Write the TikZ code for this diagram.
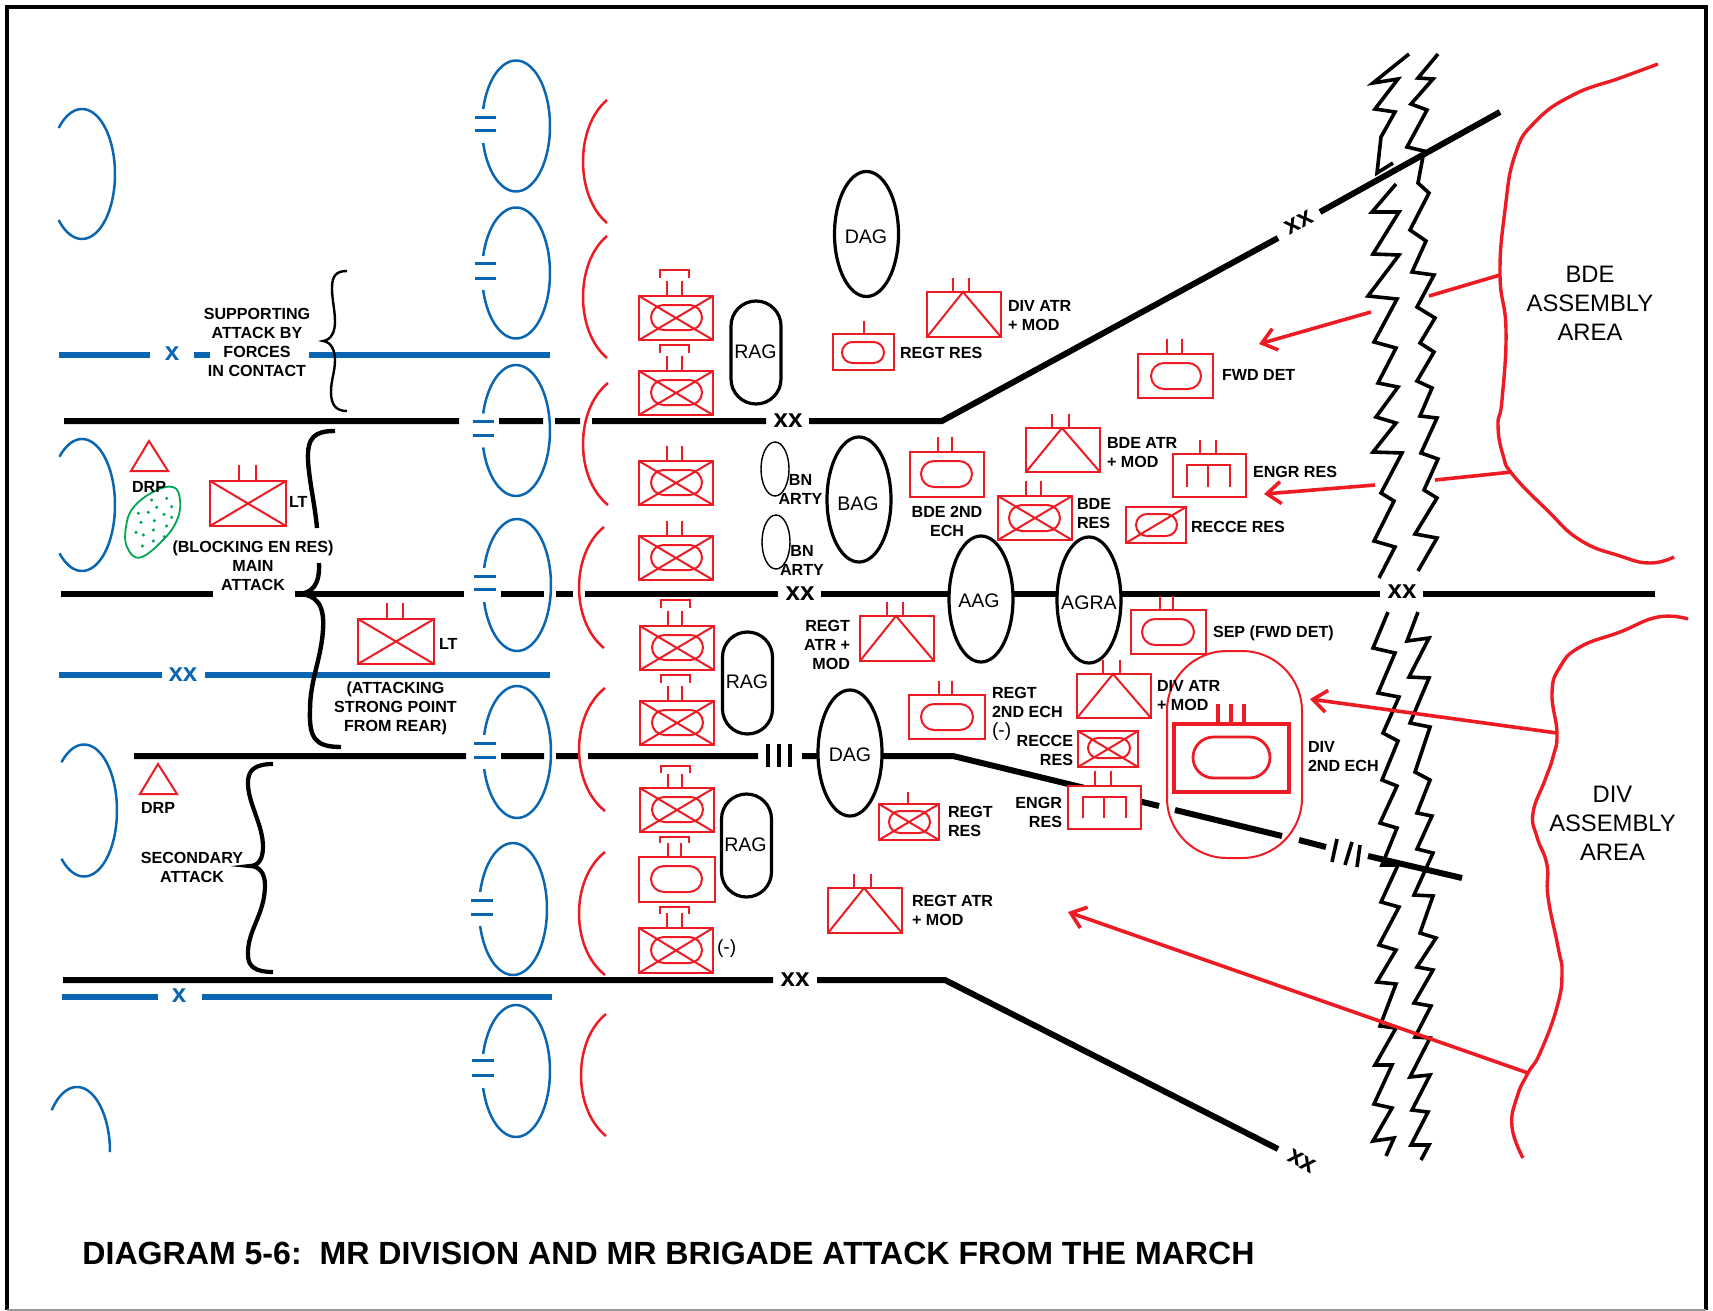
\documentclass[tikz,border=0pt]{standalone}
\usepackage{fontspec}
\setmainfont{Liberation Sans}
\usetikzlibrary{shapes.misc,shapes.geometric,arrows.meta}
\definecolor{mred}{HTML}{ED1C24}
\definecolor{mblue}{HTML}{0B66B2}
\definecolor{mgreen}{HTML}{00A651}
\tikzset{
 redline/.style={draw=mred,line width=1pt},
 redbox/.style={redline,fill=white,rectangle,inner sep=0pt,outer sep=0pt},
 redoval/.style={redline,fill=white,rounded rectangle,inner sep=0pt,outer sep=0pt},
 blackline/.style={draw=black,line width=3pt},
 blueline/.style={draw=mblue,line width=3pt},
 jag/.style={draw=black,line width=1.8pt,miter limit=4},
 bluearc/.style={draw=mblue,line width=1.25pt},
 redarc/.style={draw=mred,line width=1.25pt},
 eqmark/.style={draw=mblue,line width=1.5pt},
 thick arrow/.style={draw=mred,line width=1.8pt},
 arrowed/.style={thick arrow,-{Straight Barb[length=7pt,width=11pt,line width=1.8pt]}},
 area/.style={draw=mred,line width=1.7pt},
 blackell/.style={draw=black,line width=1.6pt,fill=white,ellipse,inner sep=0pt,outer sep=0pt},
 ragbox/.style={draw=black,line width=1.6pt,fill=white,rounded rectangle,rounded rectangle arc length=180,inner sep=0pt,outer sep=0pt,rotate=90},
 lab/.style={inner sep=0pt,outer sep=0pt,align=center,font=\fontsize{8.05}{9.5}\selectfont\bfseries},
 labw/.style={lab,anchor=west,align=left},
 labe/.style={lab,anchor=east,align=right},
 big/.style={inner sep=0pt,font=\fontsize{9.8}{11}\selectfont},
 area text/.style={inner sep=0pt,align=center,font=\fontsize{11.9}{14.5}\selectfont},
 xxt/.style={inner sep=0pt,font=\fontsize{13}{15}\selectfont\bfseries},
}
\newcommand\ubox[5]{\node[redbox,minimum width={(#4-#2)*.5pt},minimum height={(#5-#3)*.5pt}] (#1) at ({(#2+#4)/2},{(#3+#5)/2}) {};}
\newcommand\uX[1]{\draw[redline] (#1.north west)--(#1.south east) (#1.north east)--(#1.south west);}
\newcommand\uO[5]{\node[redoval,fill=none,minimum width={(#4-#2)*.5pt},minimum height={(#5-#3)*.5pt}] (#1) at ({(#2+#4)/2},{(#3+#5)/2}) {};}
\newcommand\uT[2]{\draw[redline] (#1.south west)--(#2,0 |- #1.north)--(#1.south east);}
\newcommand\uTk[4]{\draw[redline] (#2,#4)--(#2,0 |- #1.north) (#3,#4)--(#3,0 |- #1.north);}
\newcommand\uBr[5]{\draw[redline] (#1,#4)--(#1,#3)--(#2,#3)--(#2,#4);}
% blue open ellipse
\newcommand\oarc[7][bluearc]{\draw[#1] plot[domain=#6:#7,samples=60,smooth] ({#2+#4*cos(\x)},{#3+#5*sin(\x)});}
% red open arc: x-end, y-top, y-bottom, x-left
\newcommand\rarc[4]{\draw[redarc] (#1,#2) .. controls ({(#4-.25*#1)/.75},{#2+.22*(#3-#2)}) and ({(#4-.25*#1)/.75},{#2+.78*(#3-#2)}) .. (#1,#3);}
\newcommand\eqm[4]{\draw[eqmark] (#1,#3)--(#2,#3) (#1,#4)--(#2,#4);}
\begin{document}
\begin{tikzpicture}[x=.5pt,y=-.5pt]
\useasboundingbox (0,0) rectangle (1713,1311);
\fill[white] (0,0) rectangle (1713,1311);
\draw[line width=2pt] (7,1310) -- (7,7) -- (1706,7) -- (1706,1310);
\draw[line width=.6pt,black!40] (7,1310) -- (1706,1310);

% ---------- black phase lines
\coordinate (a0) at (64,421); \coordinate (a1) at (459,421); \coordinate (a2) at (499,421); \coordinate (a3) at (543,421);
\coordinate (a4) at (555,421); \coordinate (a5) at (580,421); \coordinate (a6) at (592,421); \coordinate (a7) at (766,421);
\coordinate (a8) at (809,421); \coordinate (a9) at (942,421); \coordinate (a10) at (1278,238); \coordinate (a11) at (1320,212); \coordinate (a12) at (1500,112);
\draw[blackline] (a0)--(a1) (a2)--(a3) (a4)--(a5) (a6)--(a7) (a10)--(a9)--(a8) (a11)--(a12);
\coordinate (b0) at (61,594); \coordinate (b1) at (213,594); \coordinate (b2) at (295,594); \coordinate (b3) at (464,594);
\coordinate (b4) at (501,594); \coordinate (b5) at (544,594); \coordinate (b6) at (556,594); \coordinate (b7) at (573,594);
\coordinate (b8) at (585,594); \coordinate (b9) at (778,594); \coordinate (b10) at (821,594); \coordinate (b11) at (1380,594);
\coordinate (b12) at (1423,594); \coordinate (b13) at (1655,594);
\draw[blackline] (b0)--(b1) (b2)--(b3) (b4)--(b5) (b6)--(b7) (b8)--(b9) (b10)--(b11) (b12)--(b13);
\coordinate (c0) at (134,756); \coordinate (c1) at (466,756); \coordinate (c2) at (501,756); \coordinate (c3) at (544,756);
\coordinate (c4) at (556,756); \coordinate (c5) at (578,756); \coordinate (c6) at (588,756); \coordinate (c7) at (758,756);
\coordinate (c8) at (802,756); \coordinate (c9) at (840,756); \coordinate (c10) at (953,756); \coordinate (c11) at (1159,806);
\coordinate (c12) at (1175,810); \coordinate (c13) at (1282,836); \coordinate (c14) at (1299,840); \coordinate (c15) at (1326,847);
\coordinate (c16) at (1368,856); \coordinate (c17) at (1462,878);
\draw[blackline] (c0)--(c1) (c2)--(c3) (c4)--(c5) (c6)--(c7) (c8)--(c9)--(c10)--(c11) (c12)--(c13) (c14)--(c15) (c16)--(c17);
\coordinate (d0) at (63,980); \coordinate (d1) at (773,980); \coordinate (d2) at (817,980); \coordinate (d3) at (945,980); \coordinate (d4) at (1278,1149);
\draw[blackline] (d0)--(d1) (d4)--(d3)--(d2);
% III marks
\draw[line width=2.2pt] (768,744)--(768,767) (779,744)--(779,767) (790,744)--(790,767);
\draw[line width=1.8pt] (1337,839)--(1332,862) (1352,842)--(1345,865) (1360,845)--(1357,867);

% ---------- blue boundary lines
\coordinate (e0) at (59,355); \coordinate (e1) at (150,355); \coordinate (e2) at (194,355); \coordinate (e3) at (210,355); \coordinate (e4) at (309,355); \coordinate (e5) at (550,355);
\draw[blueline] (e0)--(e1) (e2)--(e3) (e4)--(e5);
\coordinate (f0) at (59,674.5); \coordinate (f1) at (162,674.5); \coordinate (f2) at (205,674.5); \coordinate (f3) at (550,674.5);
\draw[blueline] (f0)--(f1) (f2)--(f3);
\coordinate (g0) at (62,997); \coordinate (g1) at (158,997); \coordinate (g2) at (202,997); \coordinate (g3) at (552,997);
\draw[blueline] (g0)--(g1) (g2)--(g3);
\node[xxt,text=mblue] (xb1) at (172,354) {x};
\node[xxt,text=mblue] (xb2) at (183,675) {xx};
\node[xxt,text=mblue] (xb3) at (179,996) {x};

% ---------- blue open ellipses
\oarc{82}{174}{33}{65}{-135}{135}
\oarc{82}{505}{33}{66}{-133}{133}
\oarc{84}{810.5}{33}{66}{-133}{133}
\oarc{77}{1152}{33}{65}{-140}{0}
\oarc{516}{126}{34}{65.5}{-165}{165}
\oarc{516}{273}{34}{65.5}{-165}{165}
\oarc{516}{430.5}{34}{65.5}{-165}{165}
\oarc{517}{585}{34}{66}{-165}{165}
\oarc{517}{752}{34}{66}{-165}{165}
\oarc{513}{909}{34}{66}{-165}{165}
\oarc{516}{1071}{34}{66}{-165}{165}
\eqm{475}{496}{118}{131}
\eqm{475}{496}{263}{278}
\eqm{473}{494}{421}{435}
\eqm{474}{496}{576}{589}
\eqm{474}{496}{743}{757}
\eqm{471}{493}{900}{914}
\eqm{472}{494}{1060}{1075}

% ---------- red open arcs
\rarc{607}{100}{223}{583}
\rarc{607}{236}{358}{583}
\rarc{608}{383}{505}{583}
\rarc{604}{527}{648}{579}
\rarc{605}{688}{811}{579}
\rarc{605}{852}{975}{579}
\rarc{606}{1014}{1136}{581}

% ---------- jagged boundary
\draw[jag] plot coordinates {(1409,54)(1373,83)(1398,79)(1375,109)(1395,112)(1381,137)(1377,173)(1393,163)};
\draw[jag] plot coordinates {(1438,54)(1418,78)(1433,79)(1411,104)(1427,110)(1407,147)(1424,151)(1418,183)(1429,193)(1410,230)(1426,241)(1412,272)(1434,275)(1417,307)(1435,318)(1420,343)(1434,352)(1417,381)(1432,388)(1420,416)(1437,418)(1421,453)(1438,459)(1424,490)(1437,498)(1415,534)(1437,538)(1418,571)};
\draw[jag] plot coordinates {(1396,184)(1372,212)(1399,212)(1373,254)(1399,255)(1368,296)(1397,299)(1374,342)(1396,348)(1378,383)(1398,387)(1376,417)(1396,423)(1373,452)(1402,453)(1381,493)(1394,501)(1374,541)(1395,547)(1379,578)};
\draw[jag] plot coordinates {(1388,612)(1373,648)(1395,653)(1378,693)(1399,697)(1383,733)(1398,741)(1382,780)(1397,786)(1380,823)(1397,828)(1382,865)(1398,865)(1381,902)(1399,907)(1379,945)(1396,950)(1377,982)(1396,984)(1380,1026)(1396,1028)(1375,1065)(1392,1065)(1374,1104)(1392,1108)(1373,1141)(1394,1138)(1386,1156)};
\draw[jag] plot coordinates {(1418,612)(1407,641)(1429,638)(1409,677)(1429,678)(1410,723)(1430,727)(1415,772)(1430,780)(1417,813)(1432,816)(1417,849)(1433,853)(1414,895)(1433,896)(1420,933)(1436,938)(1417,967)(1433,970)(1414,1003)(1431,1006)(1415,1037)(1430,1038)(1410,1077)(1430,1075)(1412,1110)(1428,1112)(1411,1145)(1429,1145)(1421,1160)};

% ---------- xx labels
\node[xxt] (xx1) at (788,421) {xx};
\node[xxt] (xx2) at (800,594) {xx};
\node[xxt] (xx3) at (795,980) {xx};
\node[xxt] (xx4) at (1402,592) {xx};
\node[xxt,rotate=29] (xx5) at (1299,222) {xx};
\node[xxt,rotate=-27] (xx6) at (1302,1161) {xx};

% ---------- assembly areas
\draw[area] plot[smooth,tension=.8] coordinates {(1658,64)(1620,78)(1573,95)(1535,122)(1515,155)(1505,210)(1500,275)(1506,330)(1502,400)(1498,425)(1503,455)(1513,475)(1547,510)(1580,540)(1620,556)(1650,563)(1674,557)};
\draw[area] plot[smooth,tension=.8] coordinates {(1688,619)(1658,617)(1620,632)(1580,647)(1560,667)(1552,693)(1557,733)(1553,757)(1545,780)(1533,813)(1537,837)(1547,865)(1548,897)(1558,947)(1562,973)(1557,1007)(1540,1053)(1528,1073)(1517,1097)(1512,1127)(1523,1158)};

% ---------- arrows
\coordinate (p1) at (1500,275); \coordinate (p2) at (1429,296); \coordinate (p3) at (1371,312); \coordinate (p4) at (1259,344);
\draw[thick arrow] (p1)--(p2); \draw[arrowed] (p3)--(p4);
\coordinate (q1) at (1512,472); \coordinate (q2) at (1435,480); \coordinate (q3) at (1375,485); \coordinate (q4) at (1264,494);
\draw[thick arrow] (q1)--(q2); \draw[arrowed] (q3)--(q4);
\coordinate (r1) at (1557,733); \coordinate (r2) at (1310,699);
\draw[arrowed] (r1)--(r2);
\coordinate (s1) at (1528,1073); \coordinate (s2) at (1068,912);
\draw[arrowed] (s1)--(s2);

% ---------- black ellipses
\node[blackell,minimum width=32pt,minimum height=62.5pt] (dag1) at (866.5,234) {};
\node[blackell,minimum width=32pt,minimum height=62.5pt] (bag) at (859,499.5) {};
\node[blackell,minimum width=32pt,minimum height=63pt] (aag) at (981,599) {};
\node[blackell,minimum width=32pt,minimum height=63pt] (agra) at (1089,600) {};
\node[blackell,minimum width=32pt,minimum height=63pt] (dag2) at (850,753) {};
\node[big] (dag1t) at (866,236.5) {DAG};
\node[big] (bagt) at (858,504) {BAG};
\node[big] (aagt) at (979,601) {AAG};
\node[big] (agrat) at (1089,603) {AGRA};
\node[big] (dag2t) at (850,755) {DAG};
\node[blackell,line width=.7pt,fill=none,minimum width=14pt,minimum height=27pt] (bn1) at (775,469) {};
\node[blackell,line width=.7pt,fill=none,minimum width=14pt,minimum height=27pt] (bn2) at (776,542) {};
% RAGs
\node[ragbox,minimum width=51.5pt,minimum height=25pt] (rag1) at (756,352.5) {};
\node[ragbox,minimum width=51pt,minimum height=25pt] (rag2) at (747.5,683) {};
\node[ragbox,minimum width=51.5pt,minimum height=25pt] (rag3) at (746.5,845.5) {};
\node[big] (rag1t) at (755.5,352) {RAG};
\node[big] (rag2t) at (747,682) {RAG};
\node[big] (rag3t) at (745.5,845) {RAG};

% ---------- red units
\ubox{u1}{639}{296}{713}{340}\uO{u1o}{651}{305}{702}{330}\uX{u1}\uTk{u1}{667}{682}{281}\uBr{660}{689}{270}{278}{}
\ubox{u2}{639}{371}{713}{415}\uO{u2o}{651}{380}{702}{405}\uX{u2}\uTk{u2}{667}{682}{356}\uBr{660}{689}{345}{353}{}
\ubox{u3}{639}{461}{713}{505}\uO{u3o}{651}{470}{702}{495}\uX{u3}\uTk{u3}{667}{682}{446}
\ubox{u4}{639}{536}{713}{580}\uO{u4o}{651}{545}{702}{570}\uX{u4}\uTk{u4}{667}{682}{521}
\ubox{u5}{640}{626}{714}{670}\uO{u5o}{652}{635}{703}{660}\uX{u5}\uTk{u5}{668}{682}{611}\uBr{661}{690}{600}{608}{}
\ubox{u6}{640}{701}{714}{745}\uO{u6o}{652}{710}{703}{735}\uX{u6}\uTk{u6}{668}{682}{686}\uBr{661}{690}{675}{683}{}
\ubox{u7}{640}{788}{714}{832}\uO{u7o}{652}{797}{703}{822}\uX{u7}\uTk{u7}{668}{682}{774}\uBr{661}{690}{766}{773}{}
\ubox{u8}{639}{857}{715}{902}\uO{u8o}{651}{866}{702}{892}\uTk{u8}{668}{681}{843}\uBr{660}{689}{837}{843}{}
\ubox{u9}{639}{928}{713}{973}\uO{u9o}{651}{937}{702}{963}\uX{u9}\uTk{u9}{667}{682}{913}\uBr{660}{689}{907}{914}{}

\ubox{tdiv}{927}{292}{1001}{337}\uT{tdiv}{963}\uTk{tdiv}{953}{969}{278}
\ubox{regres}{833}{334}{894}{370}\uO{regreso}{842}{342}{884}{363}\draw[redline] (864,321)--(864,0 |- regres.north);
\ubox{bde2}{910}{452}{984}{497}\uO{bde2o}{921}{461}{972}{487}\uTk{bde2}{938}{952}{437}
\ubox{bdeatr}{1026}{428}{1100}{472}\uT{bdeatr}{1062}\uTk{bdeatr}{1052}{1069}{414}
\ubox{bderes}{998}{496}{1072}{540}\uO{bderesO}{1009}{505}{1060}{531}\uX{bderes}\uTk{bderes}{1026}{1041}{481}
\ubox{fwd}{1138}{354}{1213}{398}\uO{fwdo}{1151}{363}{1201}{389}\uTk{fwd}{1167}{1182}{339}
\ubox{engr1}{1173}{454}{1246}{497}\uTk{engr1}{1200}{1216}{440}
\draw[redline] (1187,487)--(1187,465)--(1230,465)--(1230,487) (1208,465)--(1208,487);
\ubox{rec1}{1126}{507}{1186}{543}\uO{rec1o}{1136}{514}{1177}{536}\draw[redline] (rec1.south west)--(rec1.north east);
\ubox{lt1}{210}{481}{286}{526}\uX{lt1}\uTk{lt1}{239}{256}{465}
\ubox{lt2}{358}{619}{434}{664}\uX{lt2}\uTk{lt2}{387}{403}{603}
\ubox{ratr1}{860}{616}{934}{661}\uT{ratr1}{896}\uTk{ratr1}{887}{903}{602}
\ubox{sep}{1131}{610}{1206}{654}\uO{sepo}{1142}{619}{1194}{645}\uTk{sep}{1160}{1173}{596}
\ubox{divatr2}{1077}{674}{1151}{718}\uT{divatr2}{1113}\uTk{divatr2}{1103}{1120}{660}
\ubox{rec2}{1078}{731}{1138}{767}\uO{rec2o}{1088}{738}{1130}{758}\uX{rec2}
\ubox{engr2}{1068}{786}{1141}{829}\uTk{engr2}{1095}{1111}{771}
\draw[redline] (1083,818)--(1083,797)--(1126,797)--(1126,818) (1104,797)--(1104,818);
\ubox{r2e}{909}{695}{985}{739}\uO{r2eo}{921}{704}{973}{730}\uTk{r2e}{939}{952}{681}
\ubox{rres2}{879}{804}{939}{840}\uO{rres2o}{889}{811}{930}{833}\uX{rres2}\draw[redline] (908,792)--(908,0 |- rres2.north);
\ubox{ratr2}{828}{888}{902}{933}\uT{ratr2}{864}\uTk{ratr2}{854}{871}{874}
% div 2nd echelon
\draw[redline,rounded corners=30pt] (1167,651) rectangle (1302,858);
\node[redbox,line width=1.8pt,minimum width=57.5pt,minimum height=34pt] (bigbox) at (1231.5,758) {};
\node[redoval,line width=1.4pt,fill=none,minimum width=38.5pt,minimum height=20.5pt] (bigo) at (1231.5,757.5) {};
\draw[redline,line width=1.8pt] (1218,704)--(1218,0 |- bigbox.north) (1231,704)--(1231,0 |- bigbox.north) (1244,704)--(1244,0 |- bigbox.north);
% DRP triangles
\coordinate (t1) at (149,441); \coordinate (t2) at (131,471); \coordinate (t3) at (168,471);
\draw[redline] (t1)--(t2)--(t3)--cycle;
\coordinate (v1) at (158,764); \coordinate (v2) at (140,794); \coordinate (v3) at (177,794);
\draw[redline] (v1)--(v2)--(v3)--cycle;
% green blob
\draw[mgreen,line width=.9pt] plot[smooth cycle,tension=.7] coordinates {(173,487)(180,500)(177,520)(163,540)(140,557.5)(127,547)(126,527)(133,508)(153,492)};
\foreach \a/\b in {335/300,380/295,395/320,350/322,295/340,325/337,372/343,395/352,343/362,303/367,380/378,340/390,288/397,310/405,373/410,340/423,307/438}
  \fill[mgreen] ({40+\a/3},{400+\b/3}) circle[radius=.85pt];

% ---------- braces
\draw[line width=1.2pt] (347,271) .. controls (336,271) and (332,276) .. (332,288) .. controls (332,300) and (335,310) .. (335,322) .. controls (335,332) and (331,340) .. (323,341) .. controls (331,342) and (335,350) .. (335,360) .. controls (335,372) and (331,380) .. (331,392) .. controls (331,405) and (336,411) .. (347,411);
\draw[line width=2.2pt] (335,431) .. controls (315,431) and (307,437) .. (308,460) .. controls (309,480) and (315,505) .. (317,528);
\draw[line width=2.2pt] (319,563) .. controls (320,585) and (312,594) .. (297,594) .. controls (315,594) and (325,603) .. (323,630) .. controls (321,660) and (310,680) .. (310,710) .. controls (309,738) and (315,747) .. (341,747);
\draw[line width=2.1pt] (273,764) .. controls (255,764) and (247,770) .. (248,785) .. controls (249,805) and (263,825) .. (263,847) .. controls (263,858) and (259,866) .. (250,866) .. controls (259,866) and (265,873) .. (265,885) .. controls (265,915) and (247,930) .. (248,955) .. controls (248,967) and (256,972) .. (273,972);

% ---------- labels
\node[lab] (sup) at (257,342.5) {SUPPORTING\\ATTACK BY\\FORCES\\IN CONTACT};
\node[lab] (main) at (253,566) {(BLOCKING EN RES)\\MAIN\\ATTACK};
\node[lab] (drp1) at (149,487) {DRP};
\node[labw] (ltl1) at (289,502) {LT};
\node[labw] (ltl2) at (439,643.5) {LT};
\node[lab] (att) at (395.5,708) {(ATTACKING\\STRONG POINT\\FROM REAR)};
\node[lab] (drp2) at (158,808) {DRP};
\node[lab] (sec) at (192,867) {SECONDARY\\ATTACK};
\node[labw] at (1008,316) (l1) {DIV ATR\\+ MOD};
\node[labw] at (900,353) (l2) {REGT RES};
\node[labw] at (1222,375) (l3) {FWD DET};
\node[labw] at (1107,453) (l4) {BDE ATR\\+ MOD};
\node[labw] at (1253,472) (l5) {ENGR RES};
\node[labw] at (1077,514) (l6) {BDE\\RES};
\node[labw] at (1191,527) (l7) {RECCE RES};
\node[lab] at (800.5,489) (l8) {BN\\ARTY};
\node[lab] at (802,560) (l9) {BN\\ARTY};
\node[lab] at (947,521) (l10) {BDE 2ND\\ECH};
\node[labe] at (850,645) (l11) {REGT\\ATR +\\MOD};
\node[labw] at (992,714) (l12) {REGT\\2ND ECH\\\mdseries\fontsize{9.6}{9.5}\selectfont (-)};
\node[labe] at (1073,750) (l13) {RECCE\\RES};
\node[labw] at (948,821) (l14) {REGT\\RES};
\node[labe] at (1062,812) (l15) {ENGR\\RES};
\node[labw] at (912,910) (l16) {REGT ATR\\+ MOD};
\node[labw,font=\fontsize{9.6}{9.5}\selectfont] at (717,949) (l17) {(-)};
\node[labw] at (1213,633) (l18) {SEP (FWD DET)};
\node[labw] at (1157,696) (l19) {DIV ATR\\+ MOD};
\node[labw] at (1308,757) (l20) {DIV\\2ND ECH};
\node[area text] at (1590,303) (a20) {BDE\\ASSEMBLY\\AREA};
\node[area text] at (1612.5,823) (a21) {DIV\\ASSEMBLY\\AREA};
\node[anchor=base west,inner sep=0pt,font=\fontsize{16.05}{18}\selectfont\bfseries] (title) at (82,1264) {DIAGRAM 5-6:\ \ MR DIVISION AND MR BRIGADE ATTACK FROM THE MARCH};
\end{tikzpicture}
\end{document}
